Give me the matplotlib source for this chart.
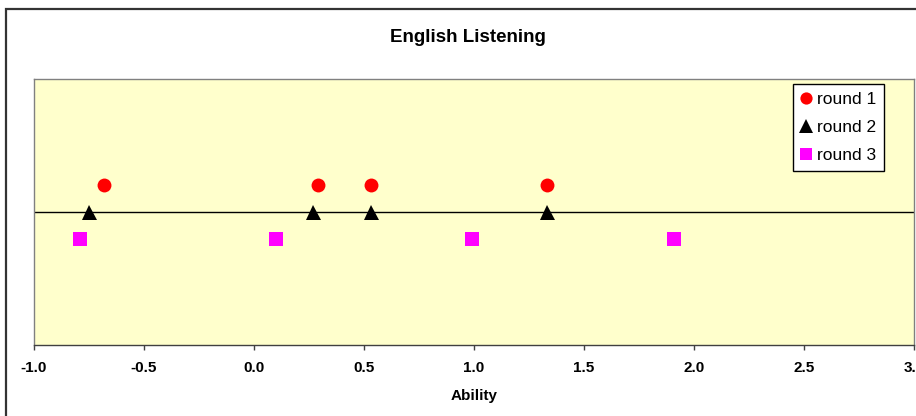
import matplotlib
matplotlib.use("Agg")
import matplotlib.pyplot as plt
from matplotlib.patches import Rectangle

plt.rcParams["font.family"] = ["Liberation Sans", "DejaVu Sans"]

# Ability estimates per round; rounds are stacked at fixed vertical offsets
round1_ability = [-0.68, 0.29, 0.53, 1.33]
round2_ability = [-0.75, 0.27, 0.53, 1.33]
round3_ability = [-0.79, 0.10, 0.99, 1.91]
round_levels = [1, 0, -1]
series_labels = ["round 1", "round 2", "round 3"]
x_ticks = [-1.0, -0.5, 0.0, 0.5, 1.0, 1.5, 2.0, 2.5, 3.0]

W, H = 916, 416
fig = plt.figure(figsize=(W / 100, H / 100), dpi=100)
fig.patch.set_facecolor("white")

# outer chart frame
fig.add_artist(Rectangle((6 / W, -0.1), 1.2, 1 - 9 / H + 0.1,
                         transform=fig.transFigure, fill=False,
                         edgecolor="#333333", linewidth=1.6))

left, right, top, bottom = 34, 914, 79, 345
ax = fig.add_axes([left / W, 1 - bottom / H, (right - left) / W, (bottom - top) / H])
ax.set_facecolor("#FFFFCC")

ax.axhline(0, color="black", linewidth=1.0, zorder=1)

ax.plot(round1_ability, [round_levels[0]] * len(round1_ability), linestyle="none",
        marker="o", markersize=10, color="#FF0000", mew=0, label=series_labels[0], zorder=3)
ax.plot(round2_ability, [round_levels[1]] * len(round2_ability), linestyle="none",
        marker="^", markersize=10.8, color="black", mew=0, label=series_labels[1], zorder=3)
ax.plot(round3_ability, [round_levels[2]] * len(round3_ability), linestyle="none",
        marker="s", markersize=10.3, color="#FF00FF", mew=0, label=series_labels[2], zorder=3)

ax.set_xlim(-1.0, 3.0)
ax.set_ylim(-5, 5)
ax.set_xticks(x_ticks)
ax.set_xticklabels([f"{t:.1f}" for t in x_ticks], fontsize=11, fontweight="bold")
ax.tick_params(axis="x", direction="out", length=3.6, width=1.0, color="#404040", pad=8)
ax.set_yticks([])

for name, sp in ax.spines.items():
    sp.set_color("#808080")
    sp.set_linewidth(1.0)
ax.spines["bottom"].set_color("#404040")

fig.text(468 / W, 1 - 37 / H, "English Listening", ha="center", va="center",
         fontsize=13.5, fontweight="bold")
fig.text(474 / W, 1 - 396 / H, "Ability", ha="center", va="center",
         fontsize=11, fontweight="bold")

leg = ax.legend(loc="upper left", bbox_to_anchor=(793 / W, 1 - 84 / H),
                bbox_transform=fig.transFigure, fontsize=12.5, frameon=True,
                fancybox=False, framealpha=1, edgecolor="black", borderpad=0.45,
                handlelength=0.65, handletextpad=0.3, labelspacing=0.74,
                borderaxespad=0, markerscale=0.88)
leg.get_frame().set_linewidth(1.0)

fig.savefig("out.png", dpi=100)
